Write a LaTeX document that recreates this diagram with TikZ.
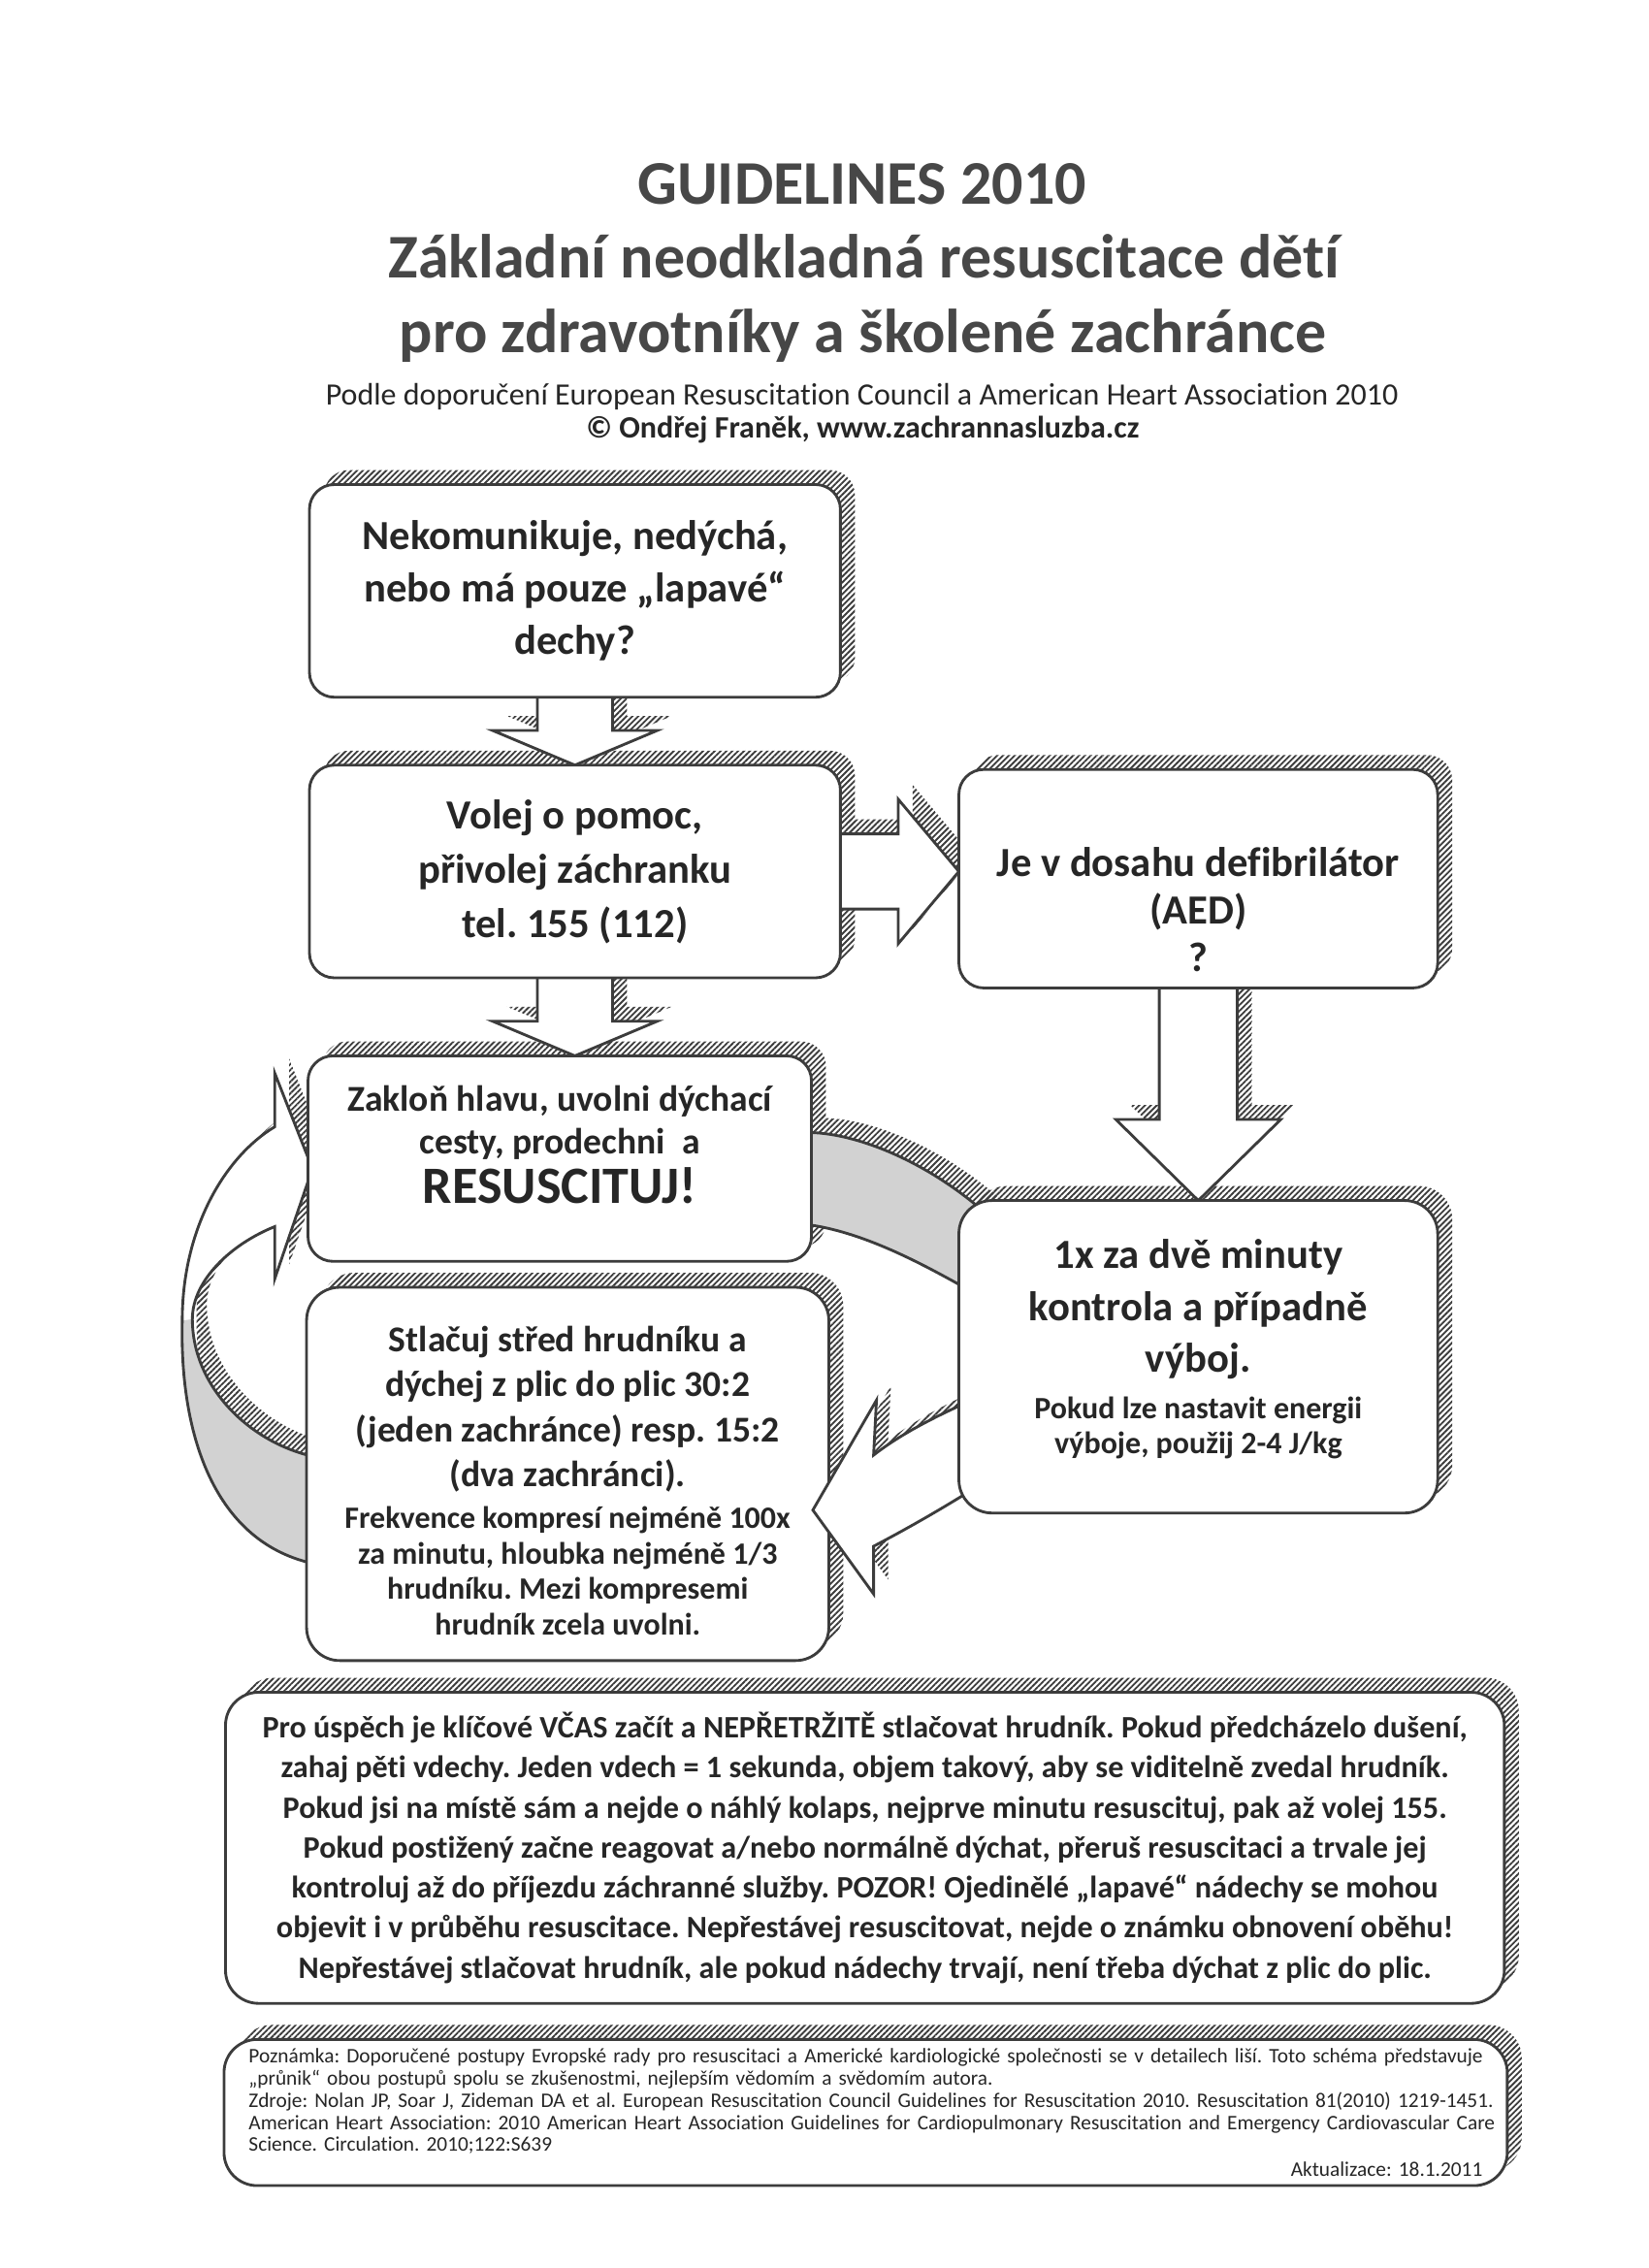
\documentclass[tikz,border=0pt]{standalone}
\usepackage{fontspec}
\setmainfont{Carlito}[Ligatures=NoCommon]
\usetikzlibrary{calc,patterns.meta}
\definecolor{ink}  {HTML}{262626}
\definecolor{head} {HTML}{474747}
\definecolor{frame}{HTML}{3C3C3C}
\definecolor{band} {HTML}{D2D2D2}
\pgfdeclarelayer{shade}
\pgfdeclarelayer{links}
\pgfsetlayers{shade,links,main}
\frenchspacing
\newcommand{\fine}{\fontsize{11.25}{13}\selectfont}
% block arrows between the boxes
\newcommand{\arrowone}{($(nekom.south)+(-26,-6)$) -- ($(volej.north)+(-26,-24)$) -- ($(volej.north)+(-57,-24)$) -- (volej.north) -- ($(volej.north)+(57,-24)$) -- ($(volej.north)+(26,-24)$) -- ($(nekom.south)+(26,-6)$) -- cycle}
\newcommand{\arrowtwo}{($(volej.south)+(-26,-6)$) -- ($(volej.south |- zaklon.north)+(-26,-24)$) -- ($(volej.south |- zaklon.north)+(-57,-24)$) -- (volej.south |- zaklon.north) -- ($(volej.south |- zaklon.north)+(57,-24)$) -- ($(volej.south |- zaklon.north)+(26,-24)$) -- ($(volej.south)+(26,-6)$) -- cycle}
\newcommand{\arrowthree}{($(volej.east)+(-6,-26)$) -- ($(aed.west |- volej.east)+(-42,-26)$) -- ($(aed.west |- volej.east)+(-42,-50)$) -- (aed.west |- volej.east) -- ($(aed.west |- volej.east)+(-42,50)$) -- ($(aed.west |- volej.east)+(-42,26)$) -- ($(volej.east)+(-6,26)$) -- cycle}
\newcommand{\arrowfour}{($(aed.south)+(-27,-6)$) -- ($(kontrola.north)+(-27,-56)$) -- ($(kontrola.north)+(-57,-56)$) -- (kontrola.north) -- ($(kontrola.north)+(57,-56)$) -- ($(kontrola.north)+(27,-56)$) -- ($(aed.south)+(27,-6)$) -- cycle}
% the loop round the resuscitation boxes
\newcommand{\leftloop}{(222,1082) .. controls (150,1070) and (124,995) .. (126,913) .. controls (126,850) and (155,800) .. (190,779) -- (190,742) -- (216,808) -- (190,884) -- (190,848) .. controls (160,860) and (133,885) .. (133,912) .. controls (133,960) and (175,1000) .. (222,1008) -- cycle}
\newcommand{\leftloopgrey}{(133,912) .. controls (133,960) and (175,1000) .. (222,1008) -- (222,1082) .. controls (150,1070) and (124,995) .. (126,913) -- cycle}
\newcommand{\topband}{(561,783) .. controls (595,784) and (645,805) .. (685,842) -- (672,893) .. controls (640,875) and (600,853) .. (561,847) -- cycle}
\newcommand{\lowarrow}{(672,968) .. controls (645,980) and (622,992) .. (604,1006) -- (606,968) -- (562,1044) -- (604,1102) -- (604,1069) .. controls (625,1058) and (648,1045) .. (672,1030) -- cycle}

\begin{document}
\begin{tikzpicture}[x=0.0184211cm,y=-0.0184211cm,
  box/.style={draw=frame,line width=1pt,fill=white,rounded corners=9pt,inner sep=0pt,outer sep=0pt,align=center,text=ink},
  bigbox/.style={box,rounded corners=12pt},
  hatch/.style={pattern={Lines[angle=45,distance=1.5pt,line width=0.65pt]},pattern color=frame},
  blk/.style={draw=frame,line width=1pt,fill=white,line join=miter},
  titleline/.style={text=head,anchor=base,font=\fontsize{22.5}{27}\selectfont\bfseries},
  subline/.style={text=ink,anchor=base,font=\fontsize{11.25}{14}\selectfont}]
\useasboundingbox (0,0) rectangle (1140,1568);
% heading
\node[titleline] (guide) at (596,141) {GUIDELINES 2010};
\node[titleline] (zakladni) at (597.5,192) {Základní neodkladná resuscitace dětí};
\node[titleline] (prozdrav) at (596.5,244) {pro zdravotníky a školené zachránce};
\node[subline] (podle) at (596,280) {Podle doporučení European Resuscitation Council a American Heart Association 2010};
\node[subline,font=\fontsize{11.25}{14}\selectfont\bfseries] (autor) at (596.5,303) {© Ondřej Franěk, www.zachrannasluzba.cz};
% upper chain
\node[box,minimum width=6.761cm,minimum height=2.708cm,font=\fontsize{15}{18.9}\selectfont\bfseries] (nekom) at (397.5,408.5) {Nekomunikuje, nedýchá,\\nebo má pouze „lapavé“\\dechy?};
\node[box,minimum width=6.761cm,minimum height=2.708cm,font=\fontsize{15}{19.7}\selectfont\bfseries] (volej) at (397.5,602.5) {Volej o pomoc,\\přivolej záchranku\\tel. 155 (112)};
\node[box,minimum width=6.097cm,minimum height=2.782cm,font=\fontsize{15}{17.3}\selectfont\bfseries] (aed) at (828.5,607.5) {\rule{0pt}{33pt}Je v dosahu defibrilátor\\(AED)\\?};
% left loop, behind the two boxes it joins
\fill[white] \leftloop;
\fill[band] \leftloopgrey;
\draw[frame,line width=1pt,line join=miter] \leftloop;
\node[box,minimum width=6.411cm,minimum height=2.616cm,font=\fontsize{13.2}{15.7}\selectfont\bfseries] (zaklon) at (387,801) {Zakloň hlavu, uvolni dýchací\\cesty, prodechni\ \ a\\[2pt]{\fontsize{19}{23}\selectfont RESUSCITUJ!}\rule[-10.5pt]{0pt}{10.5pt}};
\node[bigbox,minimum width=6.650cm,minimum height=4.753cm,font=\fontsize{13.2}{16.3}\selectfont\bfseries] (stlacuj) at (392.5,1019) {\rule{0pt}{14pt}Stlačuj střed hrudníku a\\dýchej z plic do plic 30:2\\(jeden zachránce) resp. 15:2\\(dva zachránci).\\[-1pt]{\fine Frekvence kompresí nejméně 100x}\\[-3.5pt]{\fine za minutu, hloubka nejméně 1/3}\\[-3.5pt]{\fine hrudníku. Mezi kompresemi}\\[-3.5pt]{\fine hrudník zcela uvolni.}};
\draw[frame,fill=band,line width=1pt] \topband;
\draw[blk] \lowarrow;
\node[bigbox,minimum width=6.097cm,minimum height=3.979cm,font=\fontsize{15}{18.9}\selectfont\bfseries] (kontrola) at (828.5,938) {1x za dvě minuty\\kontrola a případně\\výboj.\\[-2.1pt]{\fine Pokud lze nastavit energii}\\[-6.3pt]{\fine výboje, použij 2-4 J/kg}\rule[-7.5pt]{0pt}{7.5pt}};
% notes
\node[bigbox,minimum width=16.284cm,minimum height=3.961cm,font=\fontsize{11.3}{14.5}\selectfont\bfseries] (uspech) at (598,1277.5) {Pro úspěch je klíčové VČAS začít a NEPŘETRŽITĚ stlačovat hrudník. Pokud předcházelo dušení,\\zahaj pěti vdechy. Jeden vdech = 1 sekunda, objem takový, aby se viditelně zvedal hrudník.\\Pokud jsi na místě sám a nejde o náhlý kolaps, nejprve minutu resuscituj, pak až volej 155.\\Pokud postižený začne reagovat a/nebo normálně dýchat, přeruš resuscitaci a trvale jej\\kontroluj až do příjezdu záchranné služby. POZOR! Ojedinělé „lapavé“ nádechy se mohou\\objevit i v průběhu resuscitace. Nepřestávej resuscitovat, nejde o známku obnovení oběhu!\\Nepřestávej stlačovat hrudník, ale pokud nádechy trvají, není třeba dýchat z plic do plic.};
\node[bigbox,minimum width=16.340cm,minimum height=1.861cm,text width=15.71cm,align=left,font=\fontsize{7.5}{8}\selectfont] (pozn) at (598.5,1460.5) {\mbox{Poznámka: Doporučené postupy Evropské rady pro resuscitaci a Americké kardiologické společnosti se v detailech liší. Toto schéma představuje}\\\mbox{„průnik“ obou postupů spolu se zkušenostmi, nejlepším vědomím a svědomím autora.}\\\mbox{Zdroje: Nolan JP, Soar J, Zideman DA et al. European Resuscitation Council Guidelines for Resuscitation 2010. Resuscitation 81(2010) 1219-1451.}\\\mbox{American Heart Association: 2010 American Heart Association Guidelines for Cardiopulmonary Resuscitation and Emergency Cardiovascular Care}\\\mbox{Science. Circulation. 2010;122:S639}\\[1pt]\mbox{}\hfill Aktualizace: 18.1.2011};
% straight arrows, under the boxes
\begin{pgfonlayer}{links}
\draw[blk] \arrowone;
\draw[blk] \arrowtwo;
\draw[blk] \arrowthree;
\draw[blk] \arrowfour;
\end{pgfonlayer}
% hatched relief, shifted up and right
\begin{pgfonlayer}{shade}
\begin{scope}[transform canvas={shift={(10,-10)}}]
\foreach \b in {nekom,volej,aed,zaklon}
  \fill[hatch,rounded corners=9pt] (\b.south west) rectangle (\b.north east);
\foreach \b in {stlacuj,kontrola,uspech,pozn}
  \fill[hatch,rounded corners=12pt] (\b.south west) rectangle (\b.north east);
\fill[hatch] \arrowone;
\fill[hatch] \arrowtwo;
\fill[hatch] \arrowthree;
\fill[hatch] \arrowfour;
\fill[hatch] \leftloop;
\fill[hatch] \topband;
\fill[hatch] \lowarrow;
\end{scope}
\end{pgfonlayer}
\end{tikzpicture}
\end{document}
